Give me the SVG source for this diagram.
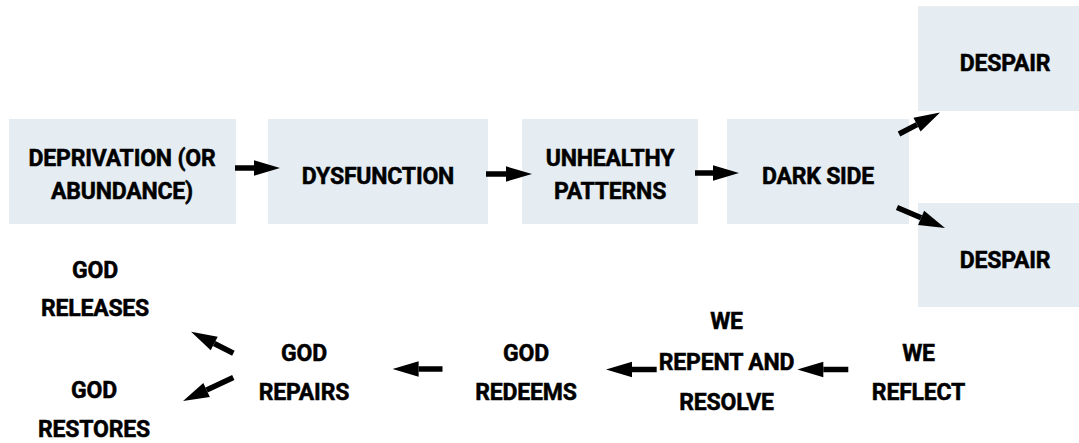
<svg xmlns="http://www.w3.org/2000/svg" width="1079" height="443" viewBox="0 0 1079 443">
<style>
  .box { fill: #E5EDF3; }
  .t { font-family: Roboto, "Liberation Sans", sans-serif; font-weight: bold; font-size: 23px; letter-spacing: -0.2px; fill: #000; stroke: #000; stroke-width: 0.5px; text-anchor: middle; }
  .c { stroke: #000; stroke-width: 5.5; fill: none; marker-end: url(#ah); }
</style>
<defs>
  <marker id="ah" markerUnits="userSpaceOnUse" markerWidth="27" markerHeight="16" refX="0" refY="7.7" orient="auto" overflow="visible">
    <path d="M0,0 L26,7.7 L0,15.4 Z" fill="#000"/>
  </marker>
</defs>
<rect width="1079" height="443" fill="#fff"/>
<g id="n-deprivation">
  <rect class="box" x="9" y="119" width="227" height="105"/>
  <text class="t" x="122" y="165.5">DEPRIVATION (OR</text>
  <text class="t" x="122" y="199">ABUNDANCE)</text>
</g>
<g id="n-dysfunction">
  <rect class="box" x="268" y="119" width="220" height="105"/>
  <text class="t" x="378" y="184">DYSFUNCTION</text>
</g>
<g id="n-unhealthy">
  <rect class="box" x="522" y="119" width="176" height="105"/>
  <text class="t" x="610" y="165.5">UNHEALTHY</text>
  <text class="t" x="610" y="199">PATTERNS</text>
</g>
<g id="n-darkside">
  <rect class="box" x="727" y="119" width="182" height="105"/>
  <text class="t" x="818" y="184">DARK SIDE</text>
</g>
<g id="n-despair1">
  <rect class="box" x="918" y="6" width="174" height="105"/>
  <text class="t" x="1005" y="71">DESPAIR</text>
</g>
<g id="n-despair2">
  <rect class="box" x="918" y="203" width="174" height="104"/>
  <text class="t" x="1005" y="268">DESPAIR</text>
</g>
<g id="n-releases">
  <text class="t" x="95" y="277.5">GOD</text>
  <text class="t" x="95" y="316">RELEASES</text>
</g>
<g id="n-restores">
  <text class="t" x="94" y="398">GOD</text>
  <text class="t" x="94" y="437">RESTORES</text>
</g>
<g id="n-repairs">
  <text class="t" x="304" y="361">GOD</text>
  <text class="t" x="304" y="400">REPAIRS</text>
</g>
<g id="n-redeems">
  <text class="t" x="526" y="361">GOD</text>
  <text class="t" x="526" y="400">REDEEMS</text>
</g>
<g id="n-repent">
  <text class="t" x="726.5" y="329">WE</text>
  <text class="t" x="726.5" y="369.5">REPENT AND</text>
  <text class="t" x="726.5" y="409.5">RESOLVE</text>
</g>
<g id="n-reflect">
  <text class="t" x="918.5" y="361">WE</text>
  <text class="t" x="918.5" y="400">REFLECT</text>
</g>
<g id="connectors">
  <line class="c" x1="235" y1="168" x2="254" y2="168"/>
  <line class="c" x1="486" y1="174" x2="506" y2="174"/>
  <line class="c" x1="695" y1="173" x2="713" y2="173"/>
  <line class="c" x1="899" y1="134" x2="917" y2="124.6"/>
  <line class="c" x1="897" y1="207.5" x2="921.1" y2="217.8"/>
  <line class="c" x1="848.3" y1="369.5" x2="823.3" y2="369.5"/>
  <line class="c" x1="656.7" y1="369.5" x2="632" y2="369.5"/>
  <line class="c" x1="442.5" y1="369" x2="418.6" y2="369"/>
  <line class="c" x1="233.4" y1="353.3" x2="214.2" y2="343.5"/>
  <line class="c" x1="233.3" y1="377.5" x2="206.6" y2="390"/>
</g>
</svg>
